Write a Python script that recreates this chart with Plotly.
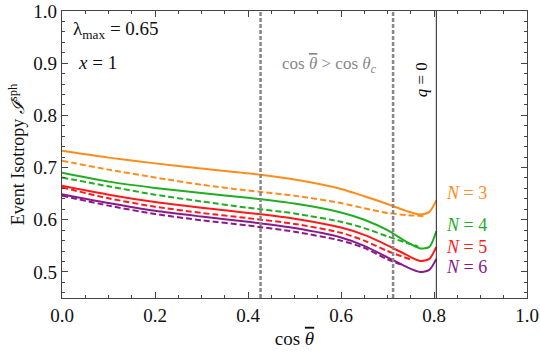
import plotly.graph_objects as go

# curve readings (cos theta-bar positions and isotropy values)
x_solid = [0.0, 0.1, 0.2, 0.3, 0.4, 0.5, 0.6, 0.65, 0.7, 0.74, 0.77, 0.79, 0.805]
n3_solid = [0.732, 0.719, 0.708, 0.698, 0.689, 0.677, 0.659, 0.645, 0.630, 0.617, 0.610, 0.615, 0.637]
n4_solid = [0.690, 0.673, 0.661, 0.651, 0.642, 0.631, 0.614, 0.600, 0.580, 0.558, 0.545, 0.548, 0.578]
n5_solid = [0.665, 0.648, 0.634, 0.623, 0.613, 0.602, 0.585, 0.571, 0.551, 0.533, 0.521, 0.525, 0.548]
n6_solid = [0.649, 0.632, 0.617, 0.606, 0.596, 0.584, 0.566, 0.550, 0.528, 0.510, 0.500, 0.504, 0.525]

x_n3_dash = [0.0, 0.1, 0.2, 0.3, 0.4, 0.5, 0.6, 0.65, 0.7, 0.74, 0.78]
n3_dash = [0.713, 0.696, 0.681, 0.667, 0.656, 0.646, 0.632, 0.622, 0.613, 0.609, 0.607]
x_n4_dash = [0.0, 0.1, 0.2, 0.3, 0.4, 0.5, 0.6, 0.65, 0.7, 0.74, 0.766]
n4_dash = [0.681, 0.664, 0.648, 0.635, 0.623, 0.612, 0.596, 0.584, 0.568, 0.556, 0.549]
x_n5_dash = [0.0, 0.1, 0.2, 0.3, 0.4, 0.5, 0.6, 0.65, 0.7, 0.752]
n5_dash = [0.662, 0.641, 0.625, 0.613, 0.603, 0.592, 0.575, 0.560, 0.540, 0.523]
x_n6_dash = [0.0, 0.1, 0.2, 0.3, 0.4, 0.5, 0.6, 0.65, 0.7, 0.73]
n6_dash = [0.646, 0.627, 0.611, 0.599, 0.589, 0.577, 0.560, 0.546, 0.524, 0.514]

labels = ["<i>N</i> = 3", "<i>N</i> = 4", "<i>N</i> = 5", "<i>N</i> = 6"]
label_y = [0.651, 0.589, 0.548, 0.510]
colors = ["#FF8C1A", "#1FAE1F", "#FF1A1A", "#8A1A8A"]

cut_lines = [0.427, 0.712]
q0_line = 0.805

x_ticks = [0.0, 0.2, 0.4, 0.6, 0.8, 1.0]
y_ticks = [0.5, 0.6, 0.7, 0.8, 0.9, 1.0]

FONT = "Liberation Serif, Times New Roman, serif"
AX = "#444444"
THETA_BAR = "<span style='text-decoration:overline'><i>θ</i></span>"

fig = go.Figure()

for xs, ys, c in zip([x_n3_dash, x_n4_dash, x_n5_dash, x_n6_dash],
                     [n3_dash, n4_dash, n5_dash, n6_dash], colors):
    fig.add_trace(go.Scatter(x=xs, y=ys, mode="lines",
                             line=dict(color=c, width=2, dash="6px,3px", shape="spline", smoothing=0.7),
                             showlegend=False, hoverinfo="skip"))

for ys, c in zip([n3_solid, n4_solid, n5_solid, n6_solid], colors):
    fig.add_trace(go.Scatter(x=x_solid, y=ys, mode="lines",
                             line=dict(color=c, width=2, shape="spline", smoothing=0.7),
                             showlegend=False, hoverinfo="skip"))

for xv in cut_lines:
    fig.add_shape(type="line", x0=xv, x1=xv, y0=0, y1=1, xref="x", yref="paper",
                  line=dict(color="#888888", width=2.5, dash="4px,2px"), layer="above")
fig.add_shape(type="line", x0=q0_line, x1=q0_line, y0=0, y1=1, xref="x", yref="paper",
              line=dict(color="#222222", width=1), layer="above")

for lab, ly, c in zip(labels, label_y, colors):
    fig.add_annotation(x=0.822, y=ly, text=lab, showarrow=False, xanchor="left", yanchor="middle",
                       font=dict(family=FONT, size=18, color=c))

fig.add_annotation(x=0.02, y=0.964, text="λ<sub>max</sub> = 0.65", showarrow=False,
                   xanchor="left", yanchor="middle", font=dict(family=FONT, size=19, color="#111"))
fig.add_annotation(x=0.03, y=0.902, text="<i>x</i> = 1", showarrow=False,
                   xanchor="left", yanchor="middle", font=dict(family=FONT, size=19, color="#111"))
fig.add_annotation(x=0.576, y=0.897, text="cos " + THETA_BAR + " > cos <i>θ<sub>c</sub></i>", showarrow=False,
                   xanchor="center", yanchor="middle", font=dict(family=FONT, size=17, color="#888888"))
fig.add_annotation(x=0.773, y=0.868, text="<i>q</i> = 0", showarrow=False, textangle=-90,
                   xanchor="center", yanchor="middle", font=dict(family=FONT, size=17, color="#111"))

axis_common = dict(showline=True, linecolor=AX, linewidth=1.3, mirror="allticks", automargin=False,
                   ticks="inside", tickcolor=AX, tickwidth=1.2, showgrid=False, zeroline=False,
                   tickfont=dict(family=FONT, size=19, color="#111"))

fig.update_xaxes(range=[0, 1], tickvals=x_ticks, ticktext=[f"{v:.1f}" for v in x_ticks], ticklen=6,
                 minor=dict(dtick=0.05, ticks="inside", ticklen=3, tickcolor=AX, tickwidth=1),
                 title=dict(text="cos " + THETA_BAR, font=dict(family=FONT, size=19, color="#111"), standoff=6),
                 **axis_common)
fig.update_yaxes(range=[0.45, 1.0], tickvals=y_ticks, ticktext=[f"{v:.1f}" for v in y_ticks], ticklen=6,
                 minor=dict(dtick=0.02, tick0=0.5, ticks="inside", ticklen=3, tickcolor=AX, tickwidth=1),
                 title=dict(text="Event Isotropy <i>ℐ</i><sup>sph</sup>", font=dict(family=FONT, size=18, color="#111"), standoff=3),
                 **axis_common)

fig.update_layout(width=540, height=353, margin=dict(l=62, r=13, t=11, b=55),
                  font=dict(family=FONT, color="#111"),
                  plot_bgcolor="white", paper_bgcolor="white")

fig.write_html("out.html", config={"displayModeBar": False},
               post_script="document.body.style.margin='0';document.body.style.padding='0';")
